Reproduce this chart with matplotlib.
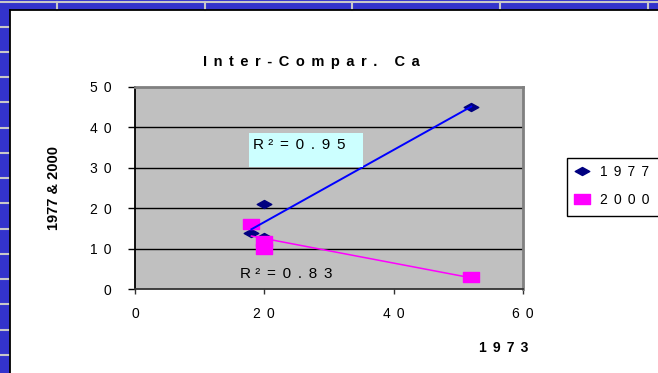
import numpy as np
import matplotlib
matplotlib.use("Agg")
import matplotlib.pyplot as plt
from matplotlib.path import Path
from matplotlib.patches import Rectangle
from matplotlib.lines import Line2D
from matplotlib.ticker import FixedLocator, FuncFormatter

plt.rcParams['font.family'] = ['Liberation Sans', 'DejaVu Sans']

# Ca concentrations: 1973 survey on x, later surveys on y
x_1973 = [18, 20, 20, 52]
y_1977 = [14, 21, 13, 45]
y_2000 = [16, 12, 10, 3]
series_names = ["1977", "2000"]
x_ticks = [0, 20, 40, 60]
y_ticks = [0, 10, 20, 30, 40, 50]
title_text = "Inter-Compar. Ca"
xlabel_text = "1973"
ylabel_text = "1977 & 2000"

W, H = 658, 373
fig = plt.figure(figsize=(W / 100, H / 100), dpi=100)
fig.patch.set_facecolor("white")


def fx(px):
    return px / W


def fy(py):
    return 1 - py / H


def spaced(s, gap=" "):
    return gap.join(s)


WIDE = " \u2006"

# worksheet frame around the chart object
blue = "#3333CC"
grid_gray = "#C8C8C8"
fig.add_artist(Rectangle((0, fy(10)), 1, 1 - fy(10), transform=fig.transFigure,
                         facecolor=blue, edgecolor="none", zorder=0))
fig.add_artist(Rectangle((0, 0), fx(9.5), 1, transform=fig.transFigure,
                         facecolor=blue, edgecolor="none", zorder=0))
fig.add_artist(Line2D([0, 1], [fy(1.5), fy(1.5)], transform=fig.transFigure,
                      color=grid_gray, lw=1.5, zorder=1))
for px in [57, 205, 352, 500, 648]:
    fig.add_artist(Line2D([fx(px), fx(px)], [fy(1.5), fy(10)], transform=fig.transFigure,
                          color=grid_gray, lw=1.5, zorder=1))
for py in np.arange(26.7, H, 25.25):
    fig.add_artist(Line2D([0, fx(8.5)], [fy(py), fy(py)], transform=fig.transFigure,
                          color=grid_gray, lw=1.5, zorder=1))
fig.add_artist(Line2D([fx(10), 1], [fy(10.3), fy(10.3)], transform=fig.transFigure,
                      color="black", lw=1.3, zorder=2))
fig.add_artist(Line2D([fx(10), fx(10)], [0, fy(10.3)], transform=fig.transFigure,
                      color="black", lw=1.3, zorder=2))

# plot area
left, right, top, bottom = 135, 523, 86.5, 289.3
ax = fig.add_axes([fx(left), fy(bottom), fx(right) - fx(left), fy(top) - fy(bottom)])
ax.set_facecolor("#C0C0C0")
ax.set_xlim(x_ticks[0], x_ticks[-1])
ax.set_ylim(y_ticks[0], y_ticks[-1])
for yv in y_ticks[1:-1]:
    ax.axhline(yv, color="black", lw=1.0, zorder=1)

ax.spines["left"].set_color("black")
ax.spines["left"].set_linewidth(1.3)
ax.spines["bottom"].set_color("#333333")
ax.spines["bottom"].set_linewidth(1.3)
for s in ("top", "right"):
    ax.spines[s].set_color("#808080")
    ax.spines[s].set_linewidth(2.0)

ax.xaxis.set_major_locator(FixedLocator(x_ticks))
ax.yaxis.set_major_locator(FixedLocator(y_ticks))
fmt = FuncFormatter(lambda v, p: spaced(str(int(v)), WIDE))
ax.xaxis.set_major_formatter(fmt)
ax.yaxis.set_major_formatter(fmt)
ax.tick_params(axis="y", direction="out", length=5, width=1, color="black",
               labelsize=10, pad=12)
ax.tick_params(axis="x", direction="out", length=3.5, width=1, color="#333333",
               labelsize=10, pad=9)

# marker shapes (wide diamond and wide square)
diamond = Path([(-1, 0), (0, 0.55), (1, 0), (0, -0.55), (-1, 0)],
               [Path.MOVETO, Path.LINETO, Path.LINETO, Path.LINETO, Path.CLOSEPOLY])
square = Path([(-1, -0.62), (1, -0.62), (1, 0.62), (-1, 0.62), (-1, -0.62)],
              [Path.MOVETO, Path.LINETO, Path.LINETO, Path.LINETO, Path.CLOSEPOLY])

navy = "#000080"
magenta = "#FF00FF"

ax.plot(x_1973, y_1977, ls="none", marker=diamond, ms=10.5, color=navy,
        mec=navy, zorder=3)
ax.plot(x_1973, y_2000, ls="none", marker=square, ms=11.3, color=magenta,
        mec=magenta, zorder=4)

# linear trendlines and R^2
xs = np.array(x_1973, dtype=float)
xline = np.array([xs.min(), xs.max()])
r2 = []
for ys, col, lw in [(y_1977, "#0000FF", 1.4), (y_2000, magenta, 1.1)]:
    ys = np.array(ys, dtype=float)
    k, b = np.polyfit(xs, ys, 1)
    pred = k * xs + b
    r2.append(1 - np.sum((ys - pred) ** 2) / np.sum((ys - ys.mean()) ** 2))
    ax.plot(xline, k * xline + b, color=col, lw=lw, zorder=5)


def r2_label(v):
    return "R \u00b2" + WIDE + "=" + WIDE + spaced(f"{v:.2f}", WIDE)


# shaded label box behind the first R^2 (axes fraction coordinates)
ax.add_patch(Rectangle(((249 - left) / (right - left), (bottom - 167) / (bottom - top)),
                       (363 - 249) / (right - left), (167 - 133.3) / (bottom - top),
                       transform=ax.transAxes, facecolor="#CCFFFF", edgecolor="none",
                       zorder=5.5))
ax.text(18.2, 35.6, r2_label(r2[0]), fontsize=11,
        ha="left", va="center", zorder=6)
ax.text(16.2, 3.7, r2_label(r2[1]), fontsize=11,
        ha="left", va="center", zorder=6)

# titles
fig.text(fx(311.5), fy(62), spaced(title_text, WIDE), fontsize=10.5,
         fontweight="bold", ha="center", va="center")
fig.text(fx(504), fy(348), spaced(xlabel_text, WIDE), fontsize=10, fontweight="bold",
         ha="center", va="center")
fig.text(fx(53.5), fy(187.5), ylabel_text, fontsize=10.5, fontweight="bold",
         rotation=90, ha="center", va="center")

# legend: frame drawn separately so it runs off the right edge of the sheet
fig.add_artist(Rectangle((fx(566.7), fy(215.7)), fx(700) - fx(566.7),
                         fy(158.3) - fy(215.7), transform=fig.transFigure,
                         facecolor="white", edgecolor="black", lw=1.0, zorder=3))
handles = [Line2D([], [], ls="none", marker=diamond, ms=10.5, color=navy, mec=navy),
           Line2D([], [], ls="none", marker=square, ms=11.3, color=magenta, mec=magenta)]
leg = fig.legend(handles, [spaced(n, WIDE) for n in series_names],
                 loc="upper left",
                 bbox_to_anchor=(fx(566.7), fy(158.3)), fontsize=10,
                 frameon=False, borderpad=0.5,
                 handlelength=1.16, handletextpad=0.74, labelspacing=1.0,
                 borderaxespad=0)
leg.set_zorder(4)

fig.savefig("out.png", dpi=100)
